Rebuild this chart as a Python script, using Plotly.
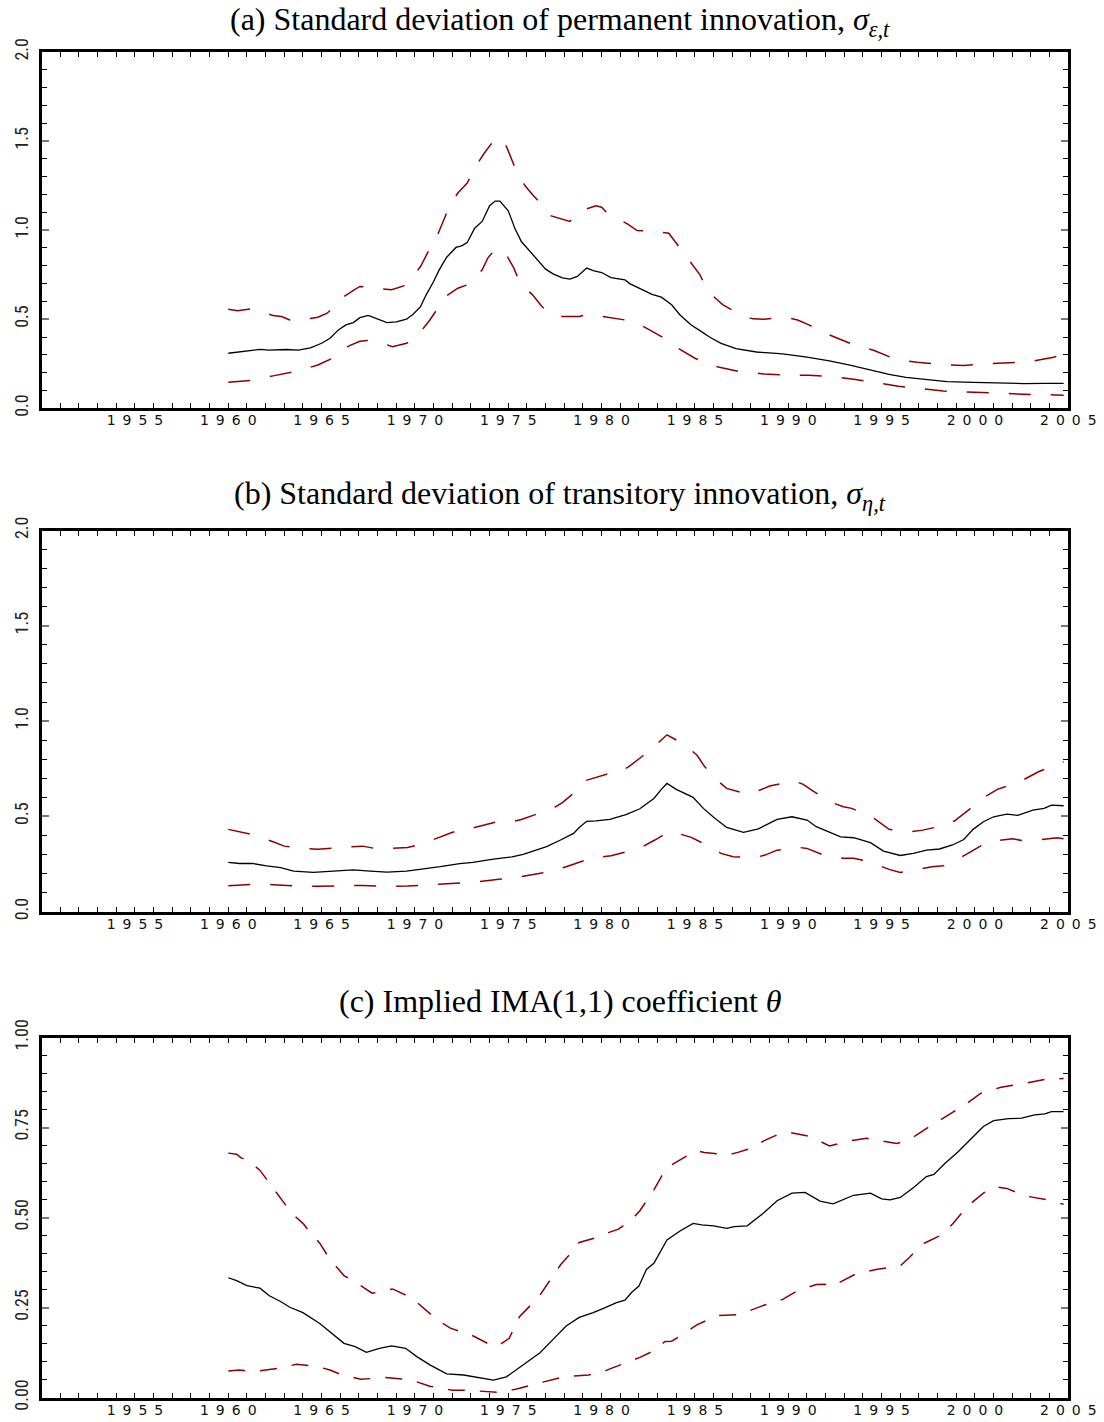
import plotly.graph_objects as go

# ---------------- Data ----------------
# Panel (a): standard deviation of permanent innovation
a_mid_x = [1960.0, 1961.0, 1961.7, 1962.2, 1963.1, 1963.75, 1964.4, 1965.0, 1965.45, 1965.9, 1966.3, 1966.7,
           1967.05, 1967.5, 1967.95, 1968.5, 1969.0, 1969.55, 1969.9, 1970.3, 1970.6, 1971.0, 1971.3, 1971.7,
           1972.2, 1972.5, 1972.8, 1973.2, 1973.6, 1974.0, 1974.3, 1974.55, 1975.0, 1975.35, 1975.7, 1976.1,
           1976.5, 1977.0, 1977.4, 1977.9, 1978.3, 1978.7, 1979.2, 1979.55, 1980.0, 1980.5, 1981.25, 1981.5,
           1982.2, 1982.7, 1983.2, 1983.75, 1984.2, 1984.8, 1985.27, 1985.8, 1986.4, 1987.2, 1988.3, 1989.7,
           1991.0, 1992.2, 1993.3, 1994.4, 1995.4, 1996.3, 1997.4, 1998.5, 1999.9, 2001.2, 2002.6, 2003.7, 2004.75]
a_mid_y = [0.309, 0.324, 0.331, 0.326, 0.330, 0.326, 0.339, 0.365, 0.393, 0.440, 0.468, 0.481,
           0.509, 0.521, 0.504, 0.481, 0.485, 0.500, 0.528, 0.571, 0.637, 0.712, 0.777, 0.848,
           0.903, 0.912, 0.931, 1.011, 1.049, 1.137, 1.163, 1.163, 1.109, 1.011, 0.936, 0.890,
           0.843, 0.781, 0.755, 0.732, 0.725, 0.740, 0.787, 0.773, 0.762, 0.734, 0.721, 0.700,
           0.665, 0.640, 0.624, 0.581, 0.524, 0.468, 0.436, 0.399, 0.365, 0.335, 0.316, 0.305,
           0.287, 0.266, 0.242, 0.215, 0.191, 0.174, 0.163, 0.150, 0.146, 0.142, 0.139, 0.140, 0.140]

a_up_x = [1960.0, 1960.5, 1961.25, 1962.4, 1962.85, 1963.3, 1963.65, 1964.8, 1965.3, 1965.6, 1966.2, 1966.6,
          1967.05, 1968.2, 1968.75, 1969.4, 1969.9, 1970.3, 1970.6, 1970.9, 1971.25, 1971.5, 1971.9, 1972.3,
          1972.8, 1973.2, 1973.7, 1974.2, 1974.5, 1974.9, 1975.4, 1975.9, 1976.3, 1976.9, 1977.3, 1978.3,
          1978.8, 1979.7, 1980.0, 1980.3, 1981.4, 1981.9, 1982.3, 1983.6, 1984.0, 1984.4, 1984.8, 1985.27,
          1985.5, 1986.0, 1986.5, 1987.5, 1988.1, 1988.7, 1989.9, 1990.5, 1991.1, 1992.2, 1993.3, 1994.6,
          1995.7, 1996.9, 1998.1, 1999.4, 2000.5, 2001.8, 2002.95, 2004.2, 2004.75]
a_up_y = [0.556, 0.547, 0.558, 0.521, 0.515, 0.496, 0.491, 0.511, 0.534, 0.566, 0.627, 0.655,
          0.684, 0.670, 0.665, 0.687, 0.743, 0.796, 0.861, 0.918, 0.983, 1.049, 1.148, 1.208,
          1.264, 1.35, 1.43, 1.50, 1.52, 1.47, 1.34, 1.249, 1.199, 1.133, 1.080, 1.049,
          1.105, 1.137, 1.129, 1.096, 1.034, 0.998, 0.996, 0.983, 0.927, 0.871, 0.815, 0.749,
          0.698, 0.627, 0.581, 0.521, 0.502, 0.500, 0.511, 0.496, 0.468, 0.412, 0.365, 0.324,
          0.277, 0.258, 0.247, 0.240, 0.249, 0.257, 0.262, 0.287, 0.300]

a_lo_x = [1960.0, 1961.25, 1962.4, 1963.65, 1964.8, 1965.45, 1965.8, 1966.5, 1967.05, 1967.7, 1968.8, 1969.55,
          1969.9, 1970.45, 1970.8, 1971.25, 1971.5, 1972.3, 1972.9, 1973.6, 1973.9, 1974.3, 1974.55, 1974.9,
          1975.3, 1975.5, 1975.9, 1976.3, 1976.8, 1977.25, 1977.6, 1978.8, 1979.3, 1979.9, 1981.25, 1982.05,
          1982.3, 1983.3, 1984.1, 1985.0, 1985.6, 1986.25, 1987.4, 1988.7, 1989.8, 1991.1, 1992.2, 1993.5,
          1994.6, 1995.9, 1997.1, 1998.3, 1999.5, 2000.7, 2001.9, 2003.1, 2004.3, 2004.75]
a_lo_y = [0.146, 0.157, 0.182, 0.208, 0.243, 0.275, 0.305, 0.352, 0.376, 0.384, 0.346, 0.365,
          0.388, 0.449, 0.496, 0.566, 0.618, 0.674, 0.697, 0.777, 0.843, 0.893, 0.893, 0.861,
          0.787, 0.736, 0.674, 0.637, 0.571, 0.530, 0.515, 0.515, 0.528, 0.519, 0.496, 0.474,
          0.455, 0.397, 0.337, 0.281, 0.253, 0.232, 0.206, 0.193, 0.187, 0.185, 0.180, 0.163,
          0.144, 0.124, 0.110, 0.097, 0.092, 0.086, 0.082, 0.077, 0.075, 0.073]

# Panel (b): standard deviation of transitory innovation
b_mid_x = [1960.0, 1960.6, 1961.3, 1962.05, 1962.8, 1963.5, 1964.55, 1965.6, 1966.7, 1967.6, 1968.5, 1969.55,
           1970.45, 1971.35, 1972.4, 1973.1, 1974.2, 1975.2, 1975.8, 1976.3, 1977.05, 1977.8, 1978.5, 1978.8,
           1979.2, 1979.7, 1980.45, 1980.8, 1981.3, 1982.05, 1982.8, 1983.2, 1983.5, 1984.0, 1984.9, 1985.45,
           1986.0, 1986.7, 1987.6, 1988.4, 1989.4, 1990.2, 1991.0, 1991.5, 1992.8, 1993.5, 1994.4, 1995.1,
           1996.0, 1996.7, 1997.4, 1998.1, 1998.8, 1999.4, 1999.9, 2000.45, 2001.0, 2001.7, 2002.3, 2003.1,
           2003.7, 2004.1, 2004.75]
b_mid_y = [0.259, 0.253, 0.253, 0.240, 0.231, 0.213, 0.206, 0.213, 0.219, 0.213, 0.208, 0.213,
           0.224, 0.236, 0.252, 0.259, 0.276, 0.288, 0.301, 0.318, 0.341, 0.376, 0.411, 0.442,
           0.474, 0.477, 0.484, 0.495, 0.509, 0.540, 0.594, 0.642, 0.673, 0.642, 0.600, 0.542,
           0.495, 0.442, 0.416, 0.435, 0.484, 0.498, 0.481, 0.446, 0.393, 0.388, 0.362, 0.318,
           0.295, 0.306, 0.323, 0.329, 0.350, 0.379, 0.432, 0.472, 0.498, 0.512, 0.505, 0.533,
           0.542, 0.559, 0.556]

b_up_x = [1960.0, 1961.25, 1962.4, 1963.0, 1963.6, 1964.8, 1966.0, 1967.2, 1967.95, 1968.4, 1969.6, 1970.3,
          1970.8, 1972.05, 1972.8, 1973.2, 1974.5, 1975.25, 1975.7, 1976.9, 1977.4, 1977.9, 1978.6, 1979.1,
          1980.3, 1980.5, 1981.4, 1982.15, 1982.9, 1983.5, 1984.0, 1984.4, 1985.1, 1985.5, 1986.0, 1986.7,
          1987.9, 1989.0, 1990.3, 1990.8, 1991.25, 1992.2, 1992.95, 1993.4, 1994.6, 1995.4, 1996.6, 1997.2,
          1997.8, 1998.9, 1999.7, 2000.3, 2001.2, 2002.4, 2003.4, 2004.4, 2004.75]
b_up_y = [0.432, 0.406, 0.367, 0.344, 0.336, 0.327, 0.337, 0.344, 0.330, 0.330, 0.337, 0.353,
          0.372, 0.418, 0.425, 0.442, 0.474, 0.474, 0.484, 0.523, 0.542, 0.572, 0.629, 0.687,
          0.722, 0.717, 0.757, 0.813, 0.874, 0.928, 0.900, 0.879, 0.822, 0.764, 0.705, 0.647,
          0.615, 0.659, 0.687, 0.668, 0.638, 0.577, 0.551, 0.542, 0.490, 0.432, 0.420, 0.428,
          0.441, 0.476, 0.537, 0.589, 0.642, 0.682, 0.734, 0.774, 0.787]

b_lo_x = [1960.0, 1961.25, 1962.4, 1963.65, 1964.8, 1966.1, 1967.2, 1968.5, 1969.6, 1970.9, 1972.05, 1973.3,
          1974.5, 1975.7, 1977.0, 1978.1, 1979.3, 1980.5, 1981.7, 1982.2, 1982.85, 1983.66, 1984.8, 1985.9,
          1986.4, 1987.05, 1988.2, 1988.75, 1989.4, 1990.6, 1991.0, 1991.8, 1992.95, 1993.5, 1994.2, 1995.4,
          1996.0, 1996.5, 1997.7, 1998.3, 1998.9, 1999.9, 2000.7, 2002.0, 2002.5, 2003.1, 2004.4, 2004.75]
b_lo_y = [0.136, 0.143, 0.142, 0.135, 0.133, 0.136, 0.138, 0.133, 0.135, 0.142, 0.149, 0.156,
          0.170, 0.184, 0.206, 0.236, 0.276, 0.294, 0.323, 0.341, 0.376, 0.423, 0.390, 0.336,
          0.306, 0.288, 0.283, 0.297, 0.323, 0.337, 0.332, 0.301, 0.280, 0.280, 0.266, 0.222,
          0.206, 0.213, 0.236, 0.241, 0.266, 0.323, 0.367, 0.383, 0.374, 0.374, 0.388, 0.383]

# Panel (c): implied IMA(1,1) coefficient theta
c_mid_x = [1960.0, 1960.45, 1961.0, 1961.7, 1962.2, 1962.8, 1963.3, 1964.0, 1964.9, 1965.45, 1966.2, 1966.8,
           1967.4, 1968.1, 1968.75, 1969.5, 1970.1, 1970.8, 1971.7, 1972.6, 1973.3, 1974.2, 1974.9, 1975.45,
           1976.0, 1976.7, 1977.4, 1978.1, 1978.8, 1979.55, 1980.1, 1980.8, 1981.25, 1981.6, 1982.0, 1982.4,
           1982.8, 1983.5, 1984.2, 1984.9, 1985.36, 1986.0, 1986.7, 1987.1, 1987.8, 1988.66, 1989.4, 1990.2,
           1990.9, 1991.7, 1992.4, 1993.5, 1994.4, 1995.0, 1995.45, 1996.0, 1996.7, 1997.4, 1997.8, 1998.4,
           1999.1, 1999.8, 2000.45, 2001.0, 2001.8, 2002.5, 2003.2, 2003.75, 2004.1, 2004.75]
c_mid_y = [0.333, 0.325, 0.311, 0.304, 0.283, 0.267, 0.251, 0.236, 0.206, 0.183, 0.151, 0.142,
           0.126, 0.137, 0.144, 0.137, 0.114, 0.091, 0.066, 0.063, 0.056, 0.049, 0.058, 0.079,
           0.100, 0.125, 0.162, 0.199, 0.223, 0.236, 0.248, 0.264, 0.271, 0.292, 0.310, 0.356,
           0.373, 0.438, 0.463, 0.484, 0.480, 0.477, 0.470, 0.475, 0.477, 0.512, 0.547, 0.568,
           0.570, 0.546, 0.538, 0.562, 0.568, 0.552, 0.549, 0.556, 0.583, 0.614, 0.620, 0.651,
           0.683, 0.720, 0.753, 0.769, 0.775, 0.776, 0.785, 0.788, 0.794, 0.794]

c_up_x = [1960.0, 1960.45, 1960.7, 1961.0, 1961.7, 1962.1, 1962.6, 1962.95, 1963.4, 1964.0, 1964.4, 1964.9,
          1965.35, 1965.7, 1966.2, 1966.9, 1967.7, 1968.2, 1968.8, 1969.8, 1970.45, 1971.2, 1971.9, 1973.1,
          1974.0, 1974.4, 1975.05, 1975.6, 1976.2, 1976.7, 1977.3, 1977.8, 1978.3, 1978.8, 1979.9, 1980.4,
          1980.9, 1981.6, 1982.05, 1982.8, 1983.2, 1983.6, 1984.5, 1985.0, 1985.5, 1986.8, 1987.3, 1987.86,
          1988.8, 1989.5, 1990.0, 1991.2, 1992.2, 1993.4, 1994.2, 1994.6, 1995.8, 1996.25, 1996.8, 1997.7,
          1998.6, 1999.6, 2000.3, 2001.4, 2002.2, 2002.7, 2003.9, 2004.75]
c_up_y = [0.679, 0.676, 0.665, 0.662, 0.631, 0.603, 0.570, 0.542, 0.512, 0.484, 0.458, 0.429,
          0.392, 0.369, 0.339, 0.318, 0.290, 0.294, 0.302, 0.278, 0.248, 0.216, 0.193, 0.172,
          0.148, 0.142, 0.165, 0.225, 0.257, 0.285, 0.331, 0.369, 0.398, 0.431, 0.447, 0.459,
          0.468, 0.494, 0.519, 0.577, 0.614, 0.642, 0.669, 0.686, 0.681, 0.674, 0.681, 0.690,
          0.716, 0.732, 0.737, 0.725, 0.699, 0.714, 0.720, 0.716, 0.706, 0.711, 0.727, 0.757,
          0.787, 0.818, 0.845, 0.862, 0.869, 0.873, 0.885, 0.886]

c_lo_x = [1960.0, 1960.6, 1961.25, 1962.4, 1962.85, 1963.65, 1964.8, 1965.45, 1966.0, 1967.1, 1968.4, 1969.55,
          1970.1, 1970.8, 1972.0, 1972.7, 1973.2, 1974.4, 1975.0, 1975.6, 1976.9, 1978.0, 1979.3, 1980.0,
          1980.45, 1981.6, 1982.05, 1982.7, 1983.4, 1983.75, 1984.3, 1985.1, 1986.2, 1987.4, 1988.6, 1989.7,
          1990.5, 1991.5, 1991.97, 1992.2, 1992.7, 1993.6, 1994.7, 1996.0, 1996.5, 1997.1, 1998.2, 1998.8,
          1999.2, 1999.8, 2000.45, 2001.07, 2001.7, 2002.7, 2003.9, 2004.75]
c_lo_y = [0.074, 0.077, 0.072, 0.081, 0.083, 0.093, 0.086, 0.077, 0.065, 0.051, 0.056, 0.051,
          0.044, 0.032, 0.021, 0.021, 0.019, 0.015, 0.019, 0.026, 0.044, 0.058, 0.063, 0.070,
          0.080, 0.102, 0.112, 0.128, 0.156, 0.157, 0.174, 0.202, 0.228, 0.231, 0.255, 0.273,
          0.297, 0.314, 0.315, 0.308, 0.319, 0.343, 0.356, 0.366, 0.390, 0.424, 0.452, 0.482,
          0.507, 0.540, 0.568, 0.586, 0.581, 0.560, 0.549, 0.537]

titles = [
    "(a) Standard deviation of permanent innovation, <i>σ</i><sub><i>ε,t</i></sub>",
    "(b) Standard deviation of transitory innovation, <i>σ</i><sub><i>η,t</i></sub>",
    "(c) Implied IMA(1,1) coefficient <i>θ</i>",
]
year_ticks = [1955, 1960, 1965, 1970, 1975, 1980, 1985, 1990, 1995, 2000, 2005]
year_labels = ["\u2002".join(str(y)) for y in year_ticks]
ab_yticks = [0.0, 0.5, 1.0, 1.5, 2.0]
ab_ylabels = ["0.0", "0.5", "1.0", "1.5", "2.0"]
c_yticks = [0.0, 0.25, 0.5, 0.75, 1.0]
c_ylabels = ["0.00", "0.25", "0.50", "0.75", "1.00"]

# ---------------- Figure ----------------
W, H = 1104, 1422
X0, X1 = 41.6, 1068.3
panels_px = [(52.0, 408.3), (530.5, 911.7), (1037.5, 1397.7)]
title_px = [21, 495, 1001]
RED = "#8b0000"
dash_ab = "22px,20px"
dash_c = "17px,15px"

series = [
    (a_mid_x, a_mid_y, a_up_x, a_up_y, a_lo_x, a_lo_y, dash_ab),
    (b_mid_x, b_mid_y, b_up_x, b_up_y, b_lo_x, b_lo_y, dash_ab),
    (c_mid_x, c_mid_y, c_up_x, c_up_y, c_lo_x, c_lo_y, dash_c),
]

fig = go.Figure()
for i, (mx, my, ux, uy, lx, ly, dsh) in enumerate(series):
    xa = "x" if i == 0 else f"x{i+1}"
    ya = "y" if i == 0 else f"y{i+1}"
    fig.add_trace(go.Scatter(x=ux, y=uy, mode="lines", xaxis=xa, yaxis=ya,
                             line=dict(color=RED, width=1.5, dash=dsh), showlegend=False))
    fig.add_trace(go.Scatter(x=lx, y=ly, mode="lines", xaxis=xa, yaxis=ya,
                             line=dict(color=RED, width=1.5, dash=dsh), showlegend=False))
    fig.add_trace(go.Scatter(x=mx, y=my, mode="lines", xaxis=xa, yaxis=ya,
                             line=dict(color="black", width=1.3), showlegend=False))

layout = dict(
    width=W, height=H, autosize=False,
    margin=dict(l=0, r=0, t=0, b=0, pad=0),
    paper_bgcolor="white", plot_bgcolor="white",
    showlegend=False,
)

tick_font_x = dict(family="DejaVu Sans, Verdana, sans-serif", size=14, color="#111")
tick_font_y = dict(family="Liberation Sans Narrow, Arial Narrow, Roboto Condensed, DejaVu Sans Condensed, sans-serif",
                   size=18, color="#222")

for i, (top, bot) in enumerate(panels_px):
    xk = "xaxis" if i == 0 else f"xaxis{i+1}"
    yk = "yaxis" if i == 0 else f"yaxis{i+1}"
    ya = "y" if i == 0 else f"y{i+1}"
    xa = "x" if i == 0 else f"x{i+1}"
    layout[xk] = dict(
        domain=[X0 / W, X1 / W], anchor=ya, range=[1950, 2005], automargin=False,
        tickmode="array", tickvals=year_ticks, ticktext=year_labels,
        ticks="inside", ticklen=5, tickwidth=1, tickcolor="black",
        minor=dict(dtick=1, tick0=1950, ticks="inside", ticklen=5, tickwidth=1, tickcolor="black", showgrid=False),
        showline=True, linewidth=3, linecolor="black", mirror="ticks",
        showgrid=False, zeroline=False, tickfont=tick_font_x, ticklabelstandoff=-3,
    )
    if i < 2:
        yv, yl, rng, mdt = ab_yticks, ab_ylabels, [0, 2], 0.1
    else:
        yv, yl, rng, mdt = c_yticks, c_ylabels, [0, 1], 0.05
    layout[yk] = dict(
        domain=[1 - bot / H, 1 - top / H], anchor=xa, range=rng, automargin=False,
        tickmode="array", tickvals=yv, ticktext=yl, tickangle=-90,
        ticks="inside", ticklen=7, tickwidth=1.5, tickcolor="#777",
        minor=dict(dtick=mdt, tick0=0, ticks="inside", ticklen=5, tickwidth=1, tickcolor="black", showgrid=False),
        showline=True, linewidth=3, linecolor="black", mirror="ticks",
        showgrid=False, zeroline=False, tickfont=tick_font_y, ticklabelstandoff=3,
    )

fig.update_layout(**layout)

for i, t in enumerate(titles):
    fig.add_annotation(text=t, xref="paper", yref="paper", x=560 / W, y=1 - title_px[i] / H,
                       xanchor="center", yanchor="middle", showarrow=False,
                       font=dict(family="Liberation Serif, Times New Roman, serif", size=32, color="black"))

fig.write_html("out.html")
